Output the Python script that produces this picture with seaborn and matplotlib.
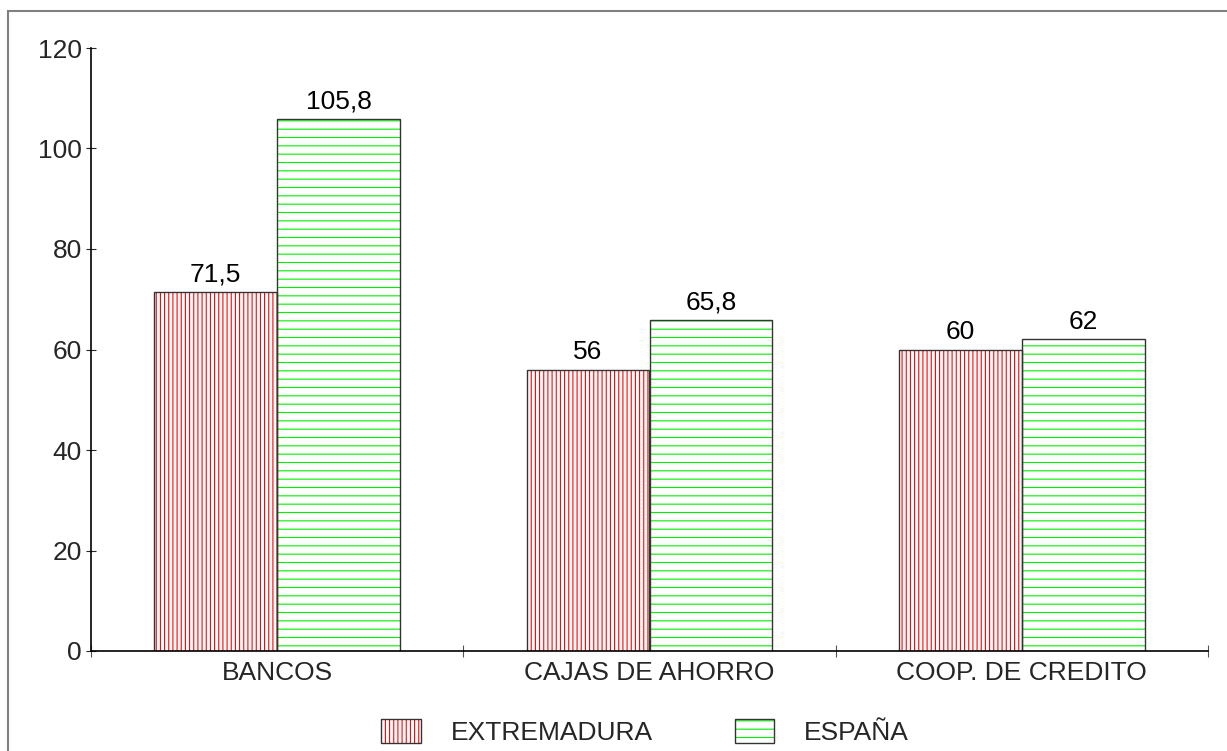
import matplotlib
matplotlib.use("Agg")
import matplotlib.pyplot as plt
from matplotlib.patches import Patch, Rectangle
from matplotlib.legend_handler import HandlerTuple
from matplotlib.ticker import FixedLocator
import seaborn as sns
import pandas as pd

# datos
categorias = ["BANCOS", "CAJAS DE AHORRO", "COOP. DE CREDITO"]
extremadura = [71.5, 56, 60]
espana = [105.8, 65.8, 62]
series = ["EXTREMADURA", "ESPAÑA"]
etiquetas_ext = ["71,5", "56", "60"]
etiquetas_esp = ["105,8", "65,8", "62"]

df = pd.DataFrame({
    "categoria": categorias * 2,
    "valor": extremadura + espana,
    "serie": [series[0]] * 3 + [series[1]] * 3,
})

sns.set_style("white")
plt.rcParams["font.family"] = ["Liberation Sans", "DejaVu Sans"]
plt.rcParams["hatch.linewidth"] = 0.8

FS = 19

fig = plt.figure(figsize=(12.27, 7.51), dpi=100)
ax = fig.add_axes([91 / 1227, 1 - 651 / 751, (1208 - 91) / 1227, (651 - 48) / 751])

sns.barplot(data=df, x="categoria", y="valor", hue="serie", hue_order=series,
            palette=["white", "white"], width=0.66, ax=ax, legend=False,
            saturation=1, errorbar=None)

colores = {series[0]: "#ff0000", series[1]: "#00ee00"}
tramas = {series[0]: "||||", series[1]: "--"}
borde = "#333333"

for cont, serie, labs in zip(ax.containers, series, [etiquetas_ext, etiquetas_esp]):
    for p in cont:
        p.set_facecolor("white")
        p.set_edgecolor(colores[serie])
        p.set_hatch(tramas[serie])
        p.set_linewidth(0)
        bb = p.get_bbox()
        ax.add_patch(Rectangle((bb.x0, bb.y0), bb.width, bb.height, fill=False,
                               edgecolor=borde, linewidth=1.0, zorder=p.get_zorder() + 0.1))
    ax.bar_label(cont, labels=labs, padding=4, fontsize=FS, color="black")

ax.set_ylim(0, 120)
ax.set_xlim(-0.5, 2.5)
ax.set_yticks(range(0, 121, 20))
ax.set_xlabel("")
ax.set_ylabel("")
for s in ["top", "right"]:
    ax.spines[s].set_visible(False)
for s in ["left", "bottom"]:
    ax.spines[s].set_color("black")
    ax.spines[s].set_linewidth(1.2)

ax.tick_params(axis="y", direction="inout", length=7, width=0.8, labelsize=FS, pad=3, left=True)
ax.tick_params(axis="x", which="major", length=0, labelsize=FS, pad=7)
ax.xaxis.set_minor_locator(FixedLocator([-0.5, 0.5, 1.5, 2.5]))
ax.tick_params(axis="x", which="minor", direction="inout", length=8, width=0.8,
               color="#555555", bottom=True)

# leyenda
handles = []
for serie in series:
    h1 = Patch(facecolor="white", edgecolor=colores[serie], hatch=tramas[serie], linewidth=0)
    h2 = Patch(facecolor="none", edgecolor=borde, linewidth=1.0)
    handles.append((h1, h2))
fig.legend(handles, series, handler_map={tuple: HandlerTuple(ndivide=1)},
           loc="center", bbox_to_anchor=(645 / 1227, 1 - 732 / 751), ncol=2, frameon=False,
           fontsize=FS, handlelength=1.5, handleheight=1.0, handletextpad=1.14,
           columnspacing=3.1)

# marco exterior
fig.add_artist(Rectangle((8 / 1227, -0.01), 1.0, 1 - 11 / 751 + 0.01, fill=False,
                         edgecolor="#808080", linewidth=1.5, transform=fig.transFigure))

fig.savefig("out.png", dpi=100, facecolor="white")
